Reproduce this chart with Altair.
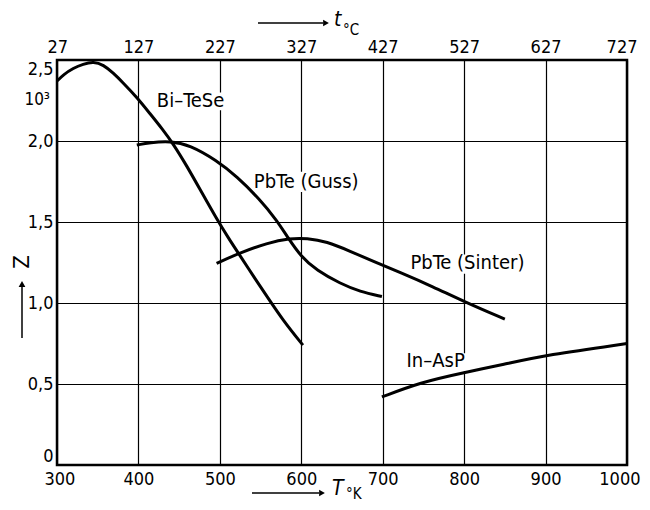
import altair as alt
import pandas as pd

# ---- data ----
bi_T = [300, 308, 320, 332, 345, 357, 369, 381, 398, 414, 430, 443, 459, 478, 496, 510, 525, 542, 558, 578, 602]
bi_Z = [2.37, 2.41, 2.45, 2.475, 2.49, 2.47, 2.42, 2.36, 2.27, 2.17, 2.07, 1.98, 1.85, 1.68, 1.52, 1.405, 1.29, 1.16, 1.04, 0.89, 0.74]

guss_T = [398, 414, 439, 463, 496, 521, 549, 570, 584, 599, 619, 648, 672, 699]
guss_Z = [1.975, 1.99, 2.0, 1.975, 1.88, 1.78, 1.64, 1.51, 1.40, 1.29, 1.20, 1.12, 1.07, 1.04]

sinter_T = [496, 525, 558, 586, 607, 631, 660, 689, 721, 762, 799, 850]
sinter_Z = [1.245, 1.31, 1.37, 1.40, 1.40, 1.38, 1.32, 1.255, 1.19, 1.10, 1.01, 0.90]

inasp_T = [699, 746, 799, 848, 902, 1000]
inasp_Z = [0.42, 0.51, 0.57, 0.62, 0.68, 0.75]

x_ticks = [300, 400, 500, 600, 700, 800, 900, 1000]
y_ticks = [0, 0.5, 1.0, 1.5, 2.0, 2.5]

label_text = ["Bi\u2013TeSe", "PbTe (Guss)", "PbTe (Sinter)", "In\u2013AsP"]
label_T = [464, 606, 804, 765]
label_Z = [2.25, 1.75, 1.25, 0.64]
bg_T1 = [414, 532, 727, 721]
bg_T2 = [515, 681, 881, 810]
bg_Z1 = [2.19, 1.685, 1.18, 0.58]
bg_Z2 = [2.30, 1.81, 1.30, 0.69]

FONT = "DejaVu Sans Condensed"

rows = []
for name, xs_, ys_ in [("Bi-TeSe", bi_T, bi_Z), ("PbTe (Guss)", guss_T, guss_Z),
                       ("PbTe (Sinter)", sinter_T, sinter_Z), ("In-AsP", inasp_T, inasp_Z)]:
    for t, z in zip(xs_, ys_):
        rows.append({"series": name, "T": t, "Z": z})
lines_df = pd.DataFrame(rows)

labels_df = pd.DataFrame({"label": label_text, "tx": label_T, "ty": label_Z,
                          "x1": bg_T1, "x2": bg_T2, "y1": bg_Z1, "y2": bg_Z2})

xscale = alt.Scale(domain=[300, 1000], nice=False, zero=False)
yscale = alt.Scale(domain=[0, 2.5], nice=False)

common_axis = dict(labelFont=FONT, labelFontSize=18, labelColor="black", ticks=False,
                   domain=False, title=None)

bottom_axis = alt.Axis(orient="bottom", values=x_ticks, grid=True, gridColor="black",
                       gridWidth=1.2, gridOpacity=1, labelPadding=5, format="d",
                       labelFlush=True, labelFlushOffset=13, **common_axis)
top_axis = alt.Axis(orient="top", values=x_ticks, grid=False, labelPadding=4,
                    labelFlush=True, labelFlushOffset=10,
                    labelExpr="format(datum.value - 273, 'd')", **common_axis)
y_axis = alt.Axis(values=y_ticks, grid=True, gridColor="black", gridWidth=1.2, gridOpacity=1,
                  labelPadding=4,
                  labelExpr="datum.value == 0 ? '0' : replace(format(datum.value, '.1f'), '.', ',')",
                  labelBaseline={"condition": [{"test": "datum.value == 2.5", "value": "top"},
                                               {"test": "datum.value == 0", "value": "bottom"}],
                                 "value": "middle"},
                  **common_axis)

bg = alt.Chart(labels_df).mark_rect(color="white").encode(
    x=alt.X("x1:Q", scale=xscale, axis=top_axis), x2="x2:Q",
    y=alt.Y("y1:Q", scale=yscale, axis=y_axis), y2="y2:Q")

lines = alt.Chart(lines_df).mark_line(color="black", strokeWidth=3, interpolate="basis").encode(
    x=alt.X("T:Q", scale=xscale, axis=bottom_axis),
    y=alt.Y("Z:Q", scale=yscale, axis=y_axis),
    detail="series:N")

labels = alt.Chart(labels_df).mark_text(font=FONT, fontSize=20, color="black").encode(
    x=alt.X("tx:Q", scale=xscale, axis=None), y=alt.Y("ty:Q", scale=yscale, axis=y_axis), text="label:N")

one = pd.DataFrame({"a": [0]})


def txt(s, x, y, size, **kw):
    return alt.Chart(one).mark_text(text=s, font=FONT, fontSize=size, color="black", **kw).encode(
        x=alt.value(x), y=alt.value(y))


def hrule(x1, x2, y):
    return alt.Chart(one).mark_rule(color="black", strokeWidth=1.5).encode(
        x=alt.value(x1), x2=alt.value(x2), y=alt.value(y))


def head(x, y, shape):
    return alt.Chart(one).mark_point(shape=shape, filled=True, color="black", size=45, opacity=1).encode(
        x=alt.value(x), y=alt.value(y))


vrule = alt.Chart(one).mark_rule(color="black", strokeWidth=1.5).encode(
    x=alt.value(-35), y=alt.value(278), y2=alt.value(227))

annotations = [
    vrule, head(-35, 224, "triangle-up"),
    txt("Z", -35, 202, 22, angle=270),
    txt("10\u00b3", -7, 40, 17, align="right"),
    hrule(195, 262, 433), head(265, 433, "triangle-right"),
    txt("T", 275, 429, 21, align="left", fontStyle="italic"),
    txt("\u00b0K", 289, 434, 15, align="left"),
    hrule(201, 266, -37), head(269, -37, "triangle-right"),
    txt("t", 277, -40, 21, align="left", fontStyle="italic"),
    txt("\u00b0C", 286, -30, 15, align="left"),
]

chart = alt.layer(bg, lines, labels, *annotations).resolve_axis(x="independent").properties(
    width=570, height=405,
    autosize=alt.AutoSizeParams(type="none"),
    padding={"left": 49, "top": 52, "right": 15, "bottom": 37},
    background="white",
).configure_view(stroke="black", strokeWidth=2.5)

chart.save("out.html", embed_options={"renderer": "svg", "actions": False})
